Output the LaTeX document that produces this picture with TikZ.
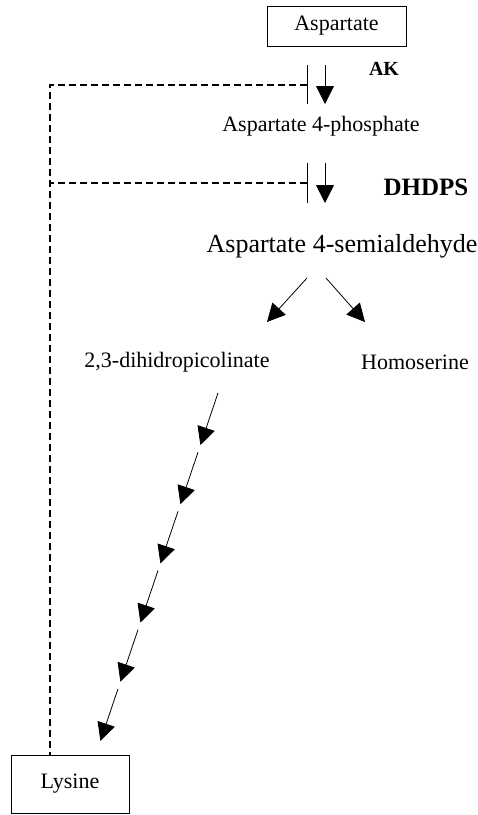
\documentclass[tikz,border=0pt]{standalone}
\usepackage{fontspec}
\setmainfont{Liberation Serif}
\usetikzlibrary{positioning,arrows.meta,calc}
\def \nf {\fontsize{22}{26}\selectfont}

\begin{document}
\begin{tikzpicture}[x=1pt, y=-1pt, >={Triangle[length=18pt,width=18pt]},
box/.style={draw, line width=0.9pt, inner sep=0pt, font=\nf},
nobox/.style={inner sep=0pt, font=\nf},
enz/.style={inner sep=0pt, font=\bfseries\fontsize{20}{24}\selectfont},
arr/.style={->, line width=0.8pt},
feedback/.style={dashed, line width=1.6pt, dash pattern=on 7pt off 4pt},
bar/.style={line width=0.9pt}
]
\useasboundingbox (0,0) rectangle (478,815);

\node (asp) [box, minimum width=139pt, minimum height=40pt] at (336.5,26) {Aspartate};
\node (ak) [enz] at (384,69) {AK};
\node (p4) [nobox] at (321,126) {Aspartate 4-phosphate};
\node (dhdps) [enz, font=\bfseries\fontsize{25}{28}\selectfont] at (426,187) {DHDPS};
\node (sa) [nobox, font=\fontsize{26}{30}\selectfont] at (342,246) {Aspartate 4-semialdehyde};
\node (dhp) [nobox] at (177,362) {2,3-dihidropicolinate};
\node (hom) [nobox] at (415,362) {Homoserine};
\node (lys) [box, minimum width=118pt, minimum height=58pt] at (70,784) {Lysine};

% inhibition points and arrow ends
\coordinate (b1) at (307,85);
\coordinate (b2) at (307,183);
\coordinate (fb) at (50,85);
\coordinate (s1) at (325,65);
\coordinate (s2) at (325,163);

\draw[bar] ($(b1)+(0,-20)$) -- ($(b1)+(0,19)$);
\draw[bar] ($(b2)+(0,-20)$) -- ($(b2)+(0,20)$);
\draw[arr] (s1) -- ++(0,39);
\draw[arr] (s2) -- ++(0,40);

\draw[feedback] (b1) -- (fb) -- (fb |- lys.north);
\draw[feedback] (b2) -- (b2 -| fb);

\draw[arr] (sa.south -| 307,0) ++(0,20) -- (267,322);
\draw[arr] (sa.south -| 326,0) ++(0,20) -- (365,322);

% steps down to lysine
\coordinate (c0) at (218,393);
\coordinate (c6) at (98,748);
\foreach \i in {0,...,5}
  \draw[arr] ($(c0)!{\i/6}!(c6)$) -- ($(c0)!{(\i+0.88)/6}!(c6)$);

\end{tikzpicture}
\end{document}
